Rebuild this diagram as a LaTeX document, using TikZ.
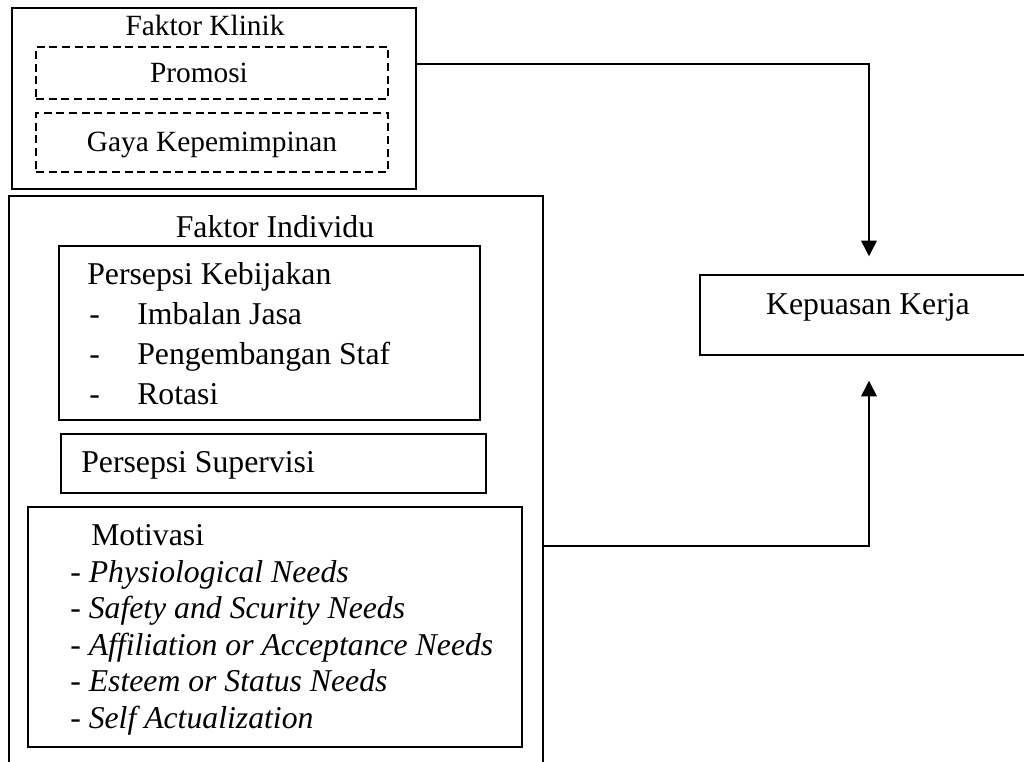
\documentclass[tikz,border=0pt]{standalone}
\usepackage{fontspec}
\setmainfont{Liberation Serif}
\usetikzlibrary{arrows.meta}
\begin{document}
\begin{tikzpicture}[x=0.75pt,y=-0.75pt,
  box/.style={draw,inner sep=0pt,line width=1.1pt},
  dbox/.style={box,dash pattern=on 6pt off 3.5pt},
  big/.style={font=\fontsize{23.8pt}{28pt}\selectfont,inner sep=0pt},
  small/.style={font=\fontsize{22pt}{26pt}\selectfont,inner sep=0pt},
  ital/.style={font=\fontsize{23.8pt}{28pt}\selectfont\itshape,inner sep=0pt},
  conn/.style={line width=1.1pt},
  arr/.style={conn,-{Triangle[width=11.75pt,length=11.75pt]}}]
\useasboundingbox (0,0) rectangle (1024,762);
% Faktor Klinik
\node[box,line width=1.6pt,minimum width=303pt,minimum height=135.75pt] (klinik) at (214,98.5) {};
\node[small,anchor=base] (klinikT) at (205,36) {Faktor Klinik};
\node[dbox,minimum width=264pt,minimum height=39pt] (promosi) at (212,73) {};
\node[small,anchor=base] (promosiT) at (199,83) {Promosi};
\node[dbox,minimum width=264pt,minimum height=44.25pt] (gaya) at (212,142.5) {};
\node[small,anchor=base] (gayaT) at (212,152) {Gaya Kepemimpinan};
% Faktor Individu (open at the bottom)
\coordinate (iBL) at (9,770);
\coordinate (iTL) at (9,196);
\coordinate (iTR) at (543,196);
\coordinate (iBR) at (543,770);
\draw[conn] (iBL) -- (iTL) -- (iTR) -- (iBR);
\coordinate (iOut) at (543,546);
\node[big,anchor=base] (individuT) at (275,238) {Faktor Individu};
% Persepsi Kebijakan
\node[box,line width=1.5pt,minimum width=315.75pt,minimum height=130.5pt] (kebijakan) at (269.5,333) {};
\node[big,anchor=base west] (kebT) at (87,285) {Persepsi Kebijakan};
\node[big,anchor=base west] (d1) at (89,325) {-};
\node[big,anchor=base west] (k1) at (137,325) {Imbalan Jasa};
\node[big,anchor=base west] (d2) at (89,365) {-};
\node[big,anchor=base west] (k2) at (137,365) {Pengembangan Staf};
\node[big,anchor=base west] (d3) at (89,405) {-};
\node[big,anchor=base west] (k3) at (137,405) {Rotasi};
% Persepsi Supervisi
\node[box,minimum width=318.75pt,minimum height=44.25pt] (supervisi) at (273.5,463.5) {};
\node[big,anchor=base west] (supT) at (81,473) {Persepsi Supervisi};
% Motivasi
\node[box,minimum width=370.5pt,minimum height=180pt] (motivasi) at (275,627) {};
\node[big,anchor=base west] (motT) at (91,545) {Motivasi};
\node[ital,anchor=base west] (m1) at (70,582) {{\upshape-} Physiological Needs};
\node[ital,anchor=base west] (m2) at (70,618.5) {{\upshape-} Safety and Scurity Needs};
\node[ital,anchor=base west] (m3) at (70,655) {{\upshape-} Affiliation or Acceptance Needs};
\node[ital,anchor=base west] (m4) at (70,691.5) {{\upshape-} Esteem or Status Needs};
\node[ital,anchor=base west] (m5) at (70,728) {{\upshape-} Self Actualization};
% Kepuasan Kerja
\node[box,minimum width=253.5pt,minimum height=60pt] (kepuasan) at (869,315) {};
\node[big,anchor=base] (kepT) at (868,315) {Kepuasan Kerja};
% connectors
\draw[arr,shorten >=13.5pt] (klinik.east |- 0,64) -| (kepuasan.north);
\draw[arr,shorten >=18.75pt] (iOut) -| (kepuasan.south);
\end{tikzpicture}
\end{document}
